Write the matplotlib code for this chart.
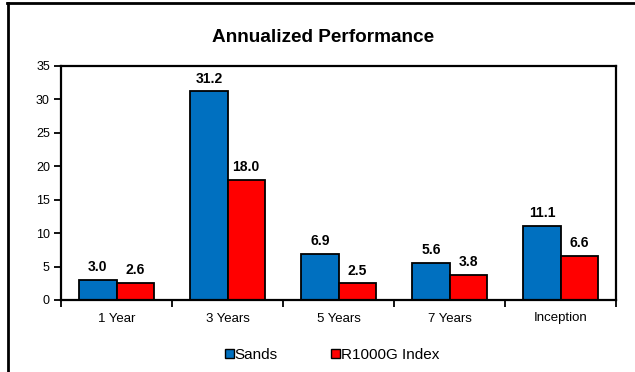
import matplotlib
matplotlib.use("Agg")
import matplotlib.pyplot as plt
from matplotlib.lines import Line2D
from matplotlib.patches import Patch
import numpy as np

plt.rcParams['font.family'] = ['Liberation Sans', 'DejaVu Sans']

categories = ["1 Year", "3 Years", "5 Years", "7 Years", "Inception"]
sands = [3.0, 31.2, 6.9, 5.6, 11.1]
r1000g = [2.6, 18.0, 2.5, 3.8, 6.6]
series_names = ["Sands", "R1000G Index"]
colors = ["#0070C0", "#FF0000"]

fig = plt.figure(figsize=(6.35, 3.72), dpi=100)
ax = fig.add_axes([61/635, 1-300/372, (616-61)/635, (300-66)/372])

x = np.arange(len(categories))
w = 0.335
b1 = ax.bar(x - w/2, sands, w, color=colors[0], edgecolor="black", linewidth=1.3)
b2 = ax.bar(x + w/2, r1000g, w, color=colors[1], edgecolor="black", linewidth=1.3)

for bars, vals in ((b1, sands), (b2, r1000g)):
    for rect, v in zip(bars, vals):
        ax.annotate(f"{v:.1f}", (rect.get_x() + rect.get_width()/2, v),
                    xytext=(0, 4), textcoords="offset points",
                    ha="center", va="bottom", fontsize=10, fontweight="bold")

ax.set_xlim(-0.5, len(categories) - 0.5)
ax.set_ylim(0, 35)
ax.set_yticks(range(0, 36, 5))
ax.tick_params(axis="y", direction="out", length=5, width=1.3, labelsize=9, pad=3)
ax.set_xticks(x)
ax.set_xticklabels(categories)
ax.tick_params(axis="x", which="major", length=0, labelsize=9.5, pad=9)
ax.set_xticks(np.arange(-0.5, len(categories), 1.0), minor=True)
ax.tick_params(axis="x", which="minor", direction="out", length=5, width=1.3)
for s in ax.spines.values():
    s.set_linewidth(1.6)

fig.text(323/635, 1-42/372, "Annualized Performance", fontsize=13.7, fontweight="bold",
         ha="center", va="baseline")

handles = [Patch(facecolor=colors[0], edgecolor="black", linewidth=1.0),
           Patch(facecolor=colors[1], edgecolor="black", linewidth=1.0)]
fig.legend(handles, series_names, loc="center", bbox_to_anchor=(332/635, 1-355/372),
           ncol=2, frameon=False, fontsize=11, handlelength=0.6, handleheight=0.6,
           handletextpad=0.05, columnspacing=3.5, borderpad=0, borderaxespad=0)

# outer frame lines (top and left)
fig.add_artist(Line2D([7/635, 1], [1-3/372, 1-3/372], color="black", linewidth=2, transform=fig.transFigure))
fig.add_artist(Line2D([8/635, 8/635], [0, 1-3/372], color="black", linewidth=2, transform=fig.transFigure))

fig.savefig("out.png", dpi=100)
